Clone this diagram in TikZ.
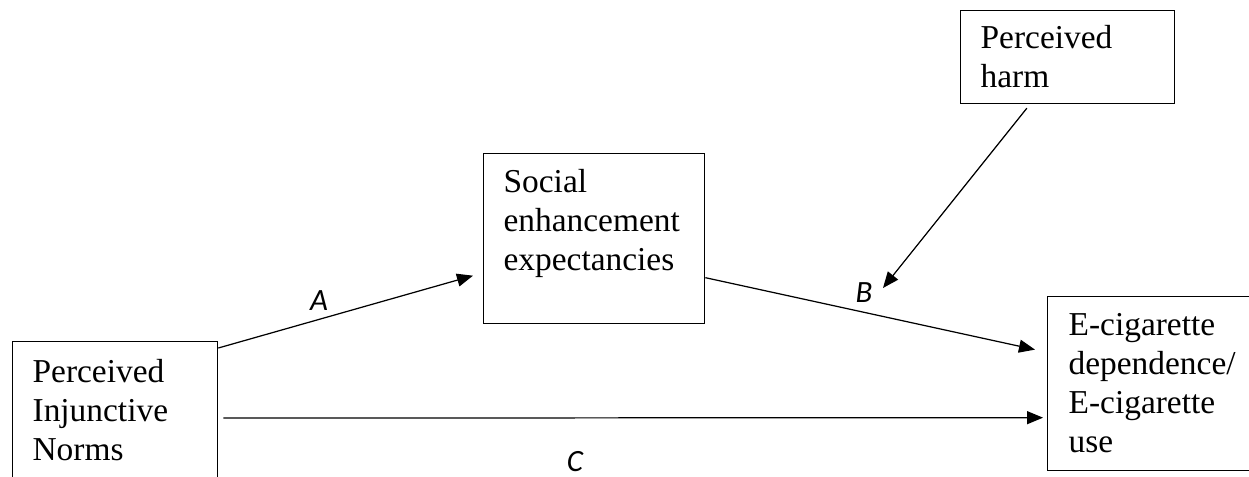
\documentclass[tikz,border=0pt]{standalone}
\usepackage{fontspec}
\setmainfont{Liberation Serif}
\newfontfamily\labfont{Carlito}
\usetikzlibrary{arrows.meta}

\begin{document}
\begin{tikzpicture}[x = 0.01cm, y = -0.01cm, line width = 0.35pt,
    varbox/.style = {draw, anchor = north west, align = left, inner xsep = 0.2cm,
                     inner ysep = 0pt, font = \fontsize{9.5}{11.1}\selectfont},
    effect/.style = {-{Triangle[length = 0.16cm, width = 0.13cm]}},
    coef/.style = {font = \labfont\itshape\fontsize{8.8}{10}\selectfont, inner sep = 0pt}]
  \useasboundingbox (0, 0) rectangle (1249, 477);
  \node [varbox, text width = 1.65cm, text height = 0.41cm, text depth = 1.3cm] (pin) at (12, 341)
        {Perceived\\Injunctive\\Norms};
  \node [varbox, text width = 1.81cm, text height = 0.39cm, text depth = 1.31cm] (see) at (483, 153)
        {Social\\enhancement\\expectancies};
  \node [varbox, text width = 1.74cm, text height = 0.38cm, text depth = 0.55cm] (ph) at (960, 10)
        {Perceived\\harm};
  \node [varbox, inner xsep = 0.21cm, text width = 1.73cm, text height = 0.39cm, text depth = 1.35cm]
        (ecig) at (1047, 296) {E-cigarette\\dependence/\\E-cigarette\\use};
  \coordinate (hm) at (883, 288);
  \node [coef] (labA) at (319, 301) {A};
  \node [coef] (labB) at (864, 293) {B};
  \node [coef] (labC) at (575, 462) {C};
  \draw [effect] ([yshift = -0.07cm]pin.north east) -- ([xshift = -0.1cm, yshift = -0.37cm]see.west);
  \draw [effect] ([yshift = -0.39cm]see.east) -- ([xshift = -0.12cm, yshift = 0.34cm]ecig.west);
  \draw [effect] ([xshift = 0.05cm, yshift = -0.77cm]pin.north east)
        -- ([xshift = -0.04cm, yshift = -0.34cm]ecig.west);
  \draw [effect, shorten < = 0.05cm] (ph) -- (hm);
\end{tikzpicture}
\end{document}
